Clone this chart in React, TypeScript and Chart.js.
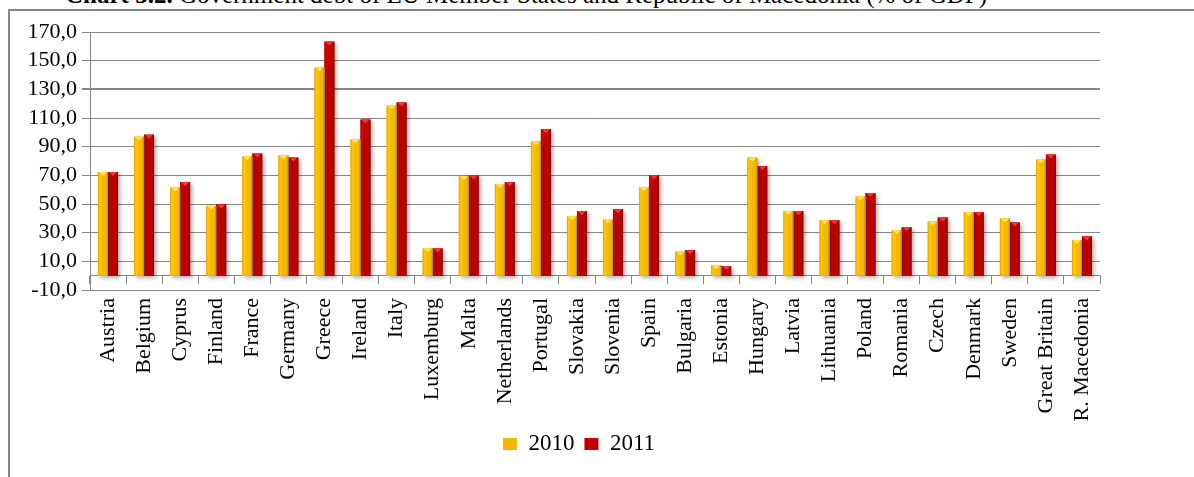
import React, { useEffect, useRef } from 'react';
import { Chart, registerables } from 'chart.js';

Chart.register(...registerables);

const countries = [
  'Austria', 'Belgium', 'Cyprus', 'Finland', 'France', 'Germany', 'Greece',
  'Ireland', 'Italy', 'Luxemburg', 'Malta', 'Netherlands', 'Portugal', 'Slovakia',
  'Slovenia', 'Spain', 'Bulgaria', 'Estonia', 'Hungary', 'Latvia', 'Lithuania',
  'Poland', 'Romania', 'Czech', 'Denmark', 'Sweden', 'Great Britain', 'R. Macedonia',
];

const debt2010 = [
  72.3, 97.0, 61.5, 48.7, 83.3, 83.8, 145.2,
  95.0, 118.7, 19.0, 69.4, 63.8, 93.6, 41.3,
  39.2, 61.5, 16.9, 7.2, 82.4, 45.0, 38.7,
  55.3, 31.8, 37.8, 44.3, 39.9, 81.0, 24.8,
];

const debt2011 = [
  72.3, 98.4, 65.4, 49.7, 85.2, 82.4, 163.3,
  108.9, 120.8, 19.0, 69.9, 65.2, 102.2, 45.0,
  46.4, 70.1, 17.8, 6.7, 76.4, 45.0, 38.7,
  57.6, 33.7, 40.6, 44.3, 37.1, 84.5, 27.4,
];

const seriesNames = ['2010', '2011'];
const yMin = -10;
const yMax = 170;
const yStep = 20;

const titleBold = 'Chart 3.2.';
const titleRest = ' Government debt of EU Member States and Republic of Macedonia (% of GDP)';

const GRID = '#868686';
const SERIF = '"Liberation Serif", "Times New Roman", serif';

const palettes = [
  { base: '#F5B800', edgeL: '#D9A000', light: '#FFC800', edgeR: '#B88600', hi: '#FFE45A' },
  { base: '#C00000', edgeL: '#A00000', light: '#D00808', edgeR: '#7A0000', hi: '#F03A3A' },
];

const barStyle = {
  id: 'barStyle',
  beforeDatasetDraw(chart: any) {
    const ctx = chart.ctx;
    ctx.save();
    ctx.shadowColor = 'rgba(0,0,0,0.35)';
    ctx.shadowBlur = 4;
    ctx.shadowOffsetX = 2;
    ctx.shadowOffsetY = 2;
  },
  afterDatasetDraw(chart: any, args: any) {
    const ctx = chart.ctx;
    ctx.restore();
    const pal = palettes[args.index % palettes.length];
    ctx.save();
    args.meta.data.forEach((el: any) => {
      const { x, y, base, width } = el.getProps(['x', 'y', 'base', 'width'], true);
      const l = x - width / 2;
      const top = Math.min(y, base);
      const h = Math.abs(base - y);
      const g = ctx.createLinearGradient(l, 0, l + width, 0);
      g.addColorStop(0, pal.edgeL);
      g.addColorStop(0.15, pal.light);
      g.addColorStop(0.55, pal.base);
      g.addColorStop(0.82, pal.base);
      g.addColorStop(1, pal.edgeR);
      ctx.fillStyle = g;
      ctx.fillRect(l, top, width, h);
      ctx.fillStyle = pal.hi;
      ctx.beginPath();
      ctx.moveTo(l + 1, top);
      ctx.lineTo(l + width - 1, top);
      ctx.lineTo(x, top + Math.min(4, h));
      ctx.closePath();
      ctx.fill();
    });
    ctx.restore();
  },
};

function fmt(v: number) {
  return v.toFixed(1).replace('.', ',');
}

export default function App() {
  const ref = useRef<HTMLCanvasElement | null>(null);

  useEffect(() => {
    if (!ref.current) return;
    const chart = new Chart(ref.current, {
      type: 'bar',
      data: {
        labels: countries,
        datasets: [
          { label: seriesNames[0], data: debt2010, backgroundColor: palettes[0].base, borderWidth: 0 },
          { label: seriesNames[1], data: debt2011, backgroundColor: palettes[1].base, borderWidth: 0 },
        ],
      },
      options: {
        animation: false,
        responsive: false,
        devicePixelRatio: 1,
        datasets: { bar: { barPercentage: 1, categoryPercentage: 0.55 } },
        layout: { padding: { left: 0, right: 0, top: 21, bottom: 11.5 } },
        plugins: {
          title: { display: false },
          tooltip: { enabled: false },
          legend: {
            position: 'bottom',
            labels: {
              boxWidth: 14,
              boxHeight: 12,
              padding: 10,
              color: '#000',
              font: { family: SERIF, size: 23 },
            },
          },
        },
        scales: {
          x: {
            type: 'category',
            position: 'bottom',
            offset: true,
            grid: { display: false, drawTicks: false },
            border: { display: false },
            ticks: {
              autoSkip: false,
              maxRotation: 90,
              minRotation: 90,
              padding: 8,
              color: '#000',
              font: { family: SERIF, size: 22 },
            },
            afterFit: (s: any) => { s.height = 132.5; },
          },
          x2: {
            type: 'category',
            position: { y: 0 },
            offset: true,
            grid: { offset: true, drawOnChartArea: false, drawTicks: true, tickLength: 8, color: GRID, lineWidth: 1 },
            border: { display: true, color: GRID, width: 1 },
            ticks: { display: false },
          },
          y: {
            position: 'left',
            min: yMin,
            max: yMax,
            ticks: {
              stepSize: yStep,
              autoSkip: false,
              padding: 5,
              color: '#000',
              font: { family: SERIF, size: 22 },
              callback: (v: any) => fmt(Number(v)),
            },
            grid: {
              color: GRID,
              tickLength: 8,
              lineWidth: (c: any) => (c.tick && c.tick.value === 130 ? 2 : 1),
            },
            border: { color: GRID, width: 1 },
            afterFit: (s: any) => { s.width = 80; },
          },
          ySpacer: {
            type: 'linear',
            position: 'right',
            display: true,
            grid: { display: false, drawTicks: false },
            border: { display: false },
            ticks: { display: false },
            afterFit: (s: any) => { s.width = 48; },
          },
        },
      },
      plugins: [barStyle],
    } as any);
    return () => chart.destroy();
  }, []);

  return (
    <div style={{ position: 'absolute', left: 0, top: 0, width: 1194, height: 477, overflow: 'hidden', background: '#fff' }}>
      <div
        style={{
          position: 'absolute', left: 65, top: -18.5, whiteSpace: 'nowrap',
          fontFamily: SERIF, fontSize: 25, lineHeight: '25px', color: '#000',
        }}
      >
        <b>{titleBold}</b>{titleRest}
      </div>
      <div style={{ position: 'absolute', left: 8, top: 9, width: 1186, height: 2, background: GRID }} />
      <div style={{ position: 'absolute', left: 8, top: 9, width: 2, height: 468, background: GRID }} />
      <canvas
        ref={ref}
        width={1138}
        height={466}
        style={{ position: 'absolute', left: 10, top: 11, width: 1138, height: 466 }}
      />
    </div>
  );
}
